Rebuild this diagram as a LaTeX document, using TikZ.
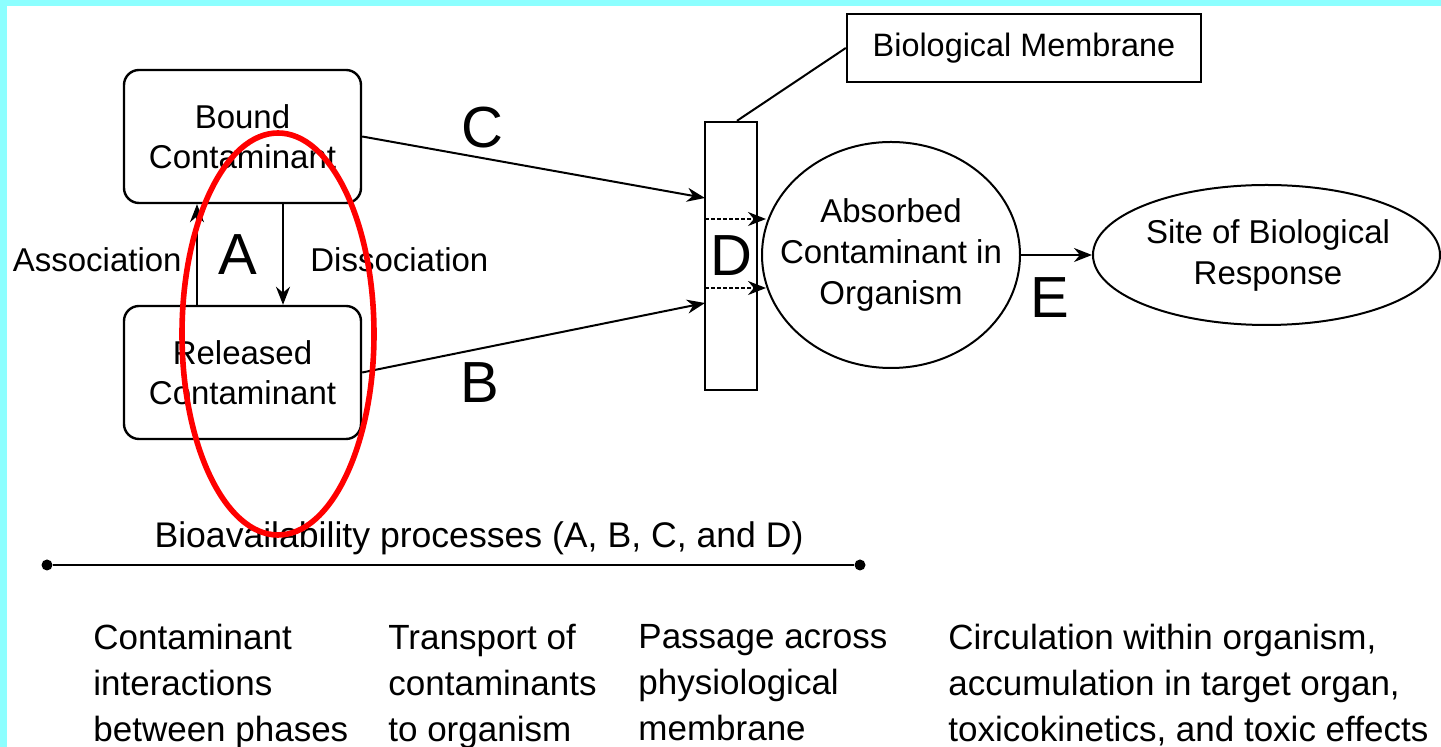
\documentclass[tikz,border=0pt]{standalone}
\usepackage{fontspec}
\setmainfont{Liberation Sans}
\usetikzlibrary{arrows.meta,shapes.geometric}
\definecolor{cyanbg}{RGB}{140,255,255}
\begin{document}
\begin{tikzpicture}[x=0.5pt,y=-0.5pt,
  box/.style={draw,line width=1.2pt,rounded corners=7.5pt,minimum width=118.5pt,minimum height=66.5pt,align=center,inner sep=0pt,font=\fontsize{16.5}{20}\selectfont},
  ell/.style={draw,ellipse,line width=1pt,inner sep=0pt},
  etext/.style={align=center,inner sep=0pt,font=\fontsize{16.5}{20.5}\selectfont},
  lbl/.style={font=\fontsize{16.5}{20}\selectfont,inner sep=0pt},
  big/.style={font=\fontsize{29}{30}\selectfont,inner sep=0pt},
  arr/.style={line width=1pt,-{Stealth[length=9pt,width=7pt]}},
  ln/.style={line width=1pt},
  foot/.style={font=\fontsize{17.5}{23}\selectfont,align=left,anchor=north west,inner sep=0pt},
  dotarr/.style={line width=1pt,dash pattern=on 2pt off 1pt,-{Stealth[length=9pt,width=7pt]}},
  dot/.style={circle,fill,inner sep=0pt,minimum size=5.5pt},
]
\useasboundingbox (0,0) rectangle (1441,747);
\fill[cyanbg] (0,0) rectangle (1441,747);
\fill[white] (7,6) rectangle (1441,747);

% boxes
\node[box] (bound) at (242.5,136.5) {Bound\\Contaminant};
\node[box] (released) at (242.5,372.5) {Released\\Contaminant};
\node[draw,line width=1.2pt,minimum width=26pt,minimum height=134pt,inner sep=0pt,font=\fontsize{29}{30}\selectfont] (mem) at (731,256) {D};
\node[ell,minimum width=129pt,minimum height=113pt] (abs) at (891,255) {};
\node[etext] (abstext) at (891,255) {Absorbed\\Contaminant in\\Organism};
\node[ell,minimum width=173.5pt,minimum height=70pt] (site) at (1266.5,255) {};
\node[etext] (sitetext) at (1268,255) {Site of Biological\\Response};
\node[draw,line width=1.2pt,minimum width=177pt,minimum height=34pt,inner sep=0pt,font=\fontsize{16.2}{20}\selectfont] (bm) at (1024,48) {Biological Membrane};

% labels
\node[lbl,anchor=east] (assoc) at (182,260) {Association};
\node[lbl,anchor=west] (dissoc) at (310,260) {Dissociation};
\node[big] (A) at (238,255) {A};
\node[big] (C) at (482,128) {C};
\node[big] (B) at (480,383) {B};
\node[big] (E) at (1050,298) {E};

% connectors
\coordinate (ax) at (197,0);
\coordinate (dx) at (283,0);
\draw[arr] (released.north -| ax) -- (bound.south -| ax);
\draw[arr] (bound.south -| dx) -- (released.north -| dx);
\coordinate (cIn) at (705,198);
\coordinate (bIn) at (705,303);
\draw[arr] (bound.east) -- (cIn);
\draw[arr] (released.east) -- (bIn);
\coordinate (d1) at (705,219);
\coordinate (d2) at (705,288);
\coordinate (d1e) at (766,219);
\coordinate (d2e) at (766,288);
\draw[dotarr] (d1) -- (d1e);
\draw[dotarr] (d2) -- (d2e);
\draw[arr] (abs.east) -- (site.west);
\draw[ln] ([xshift=3pt]mem.north) -- (bm.west);

% bioavailability bar
\node[font=\fontsize{17.8}{20}\selectfont,inner sep=0pt] (bio) at (479,538) {Bioavailability processes (A, B, C, and D)};
\node[dot] (l1) at (47,565) {};
\node[dot] (l2) at (860,565) {};
\draw[line width=1.3pt] (l1) -- (l2);

% footer texts
\node[foot] (f1) at (93,624) {Contaminant\\interactions\\between phases};
\node[foot] (f2) at (388,624) {Transport of\\contaminants\\to organism};
\node[foot] (f3) at (638,624) {Passage across\\physiological\\membrane};
\node[foot] (f4) at (948,624) {Circulation within organism,\\accumulation in target organ,\\toxicokinetics, and toxic effects};

% red highlight
\draw[red,line width=2.8pt] (278,334) ellipse [x radius=96, y radius=201];
\end{tikzpicture}
\end{document}
